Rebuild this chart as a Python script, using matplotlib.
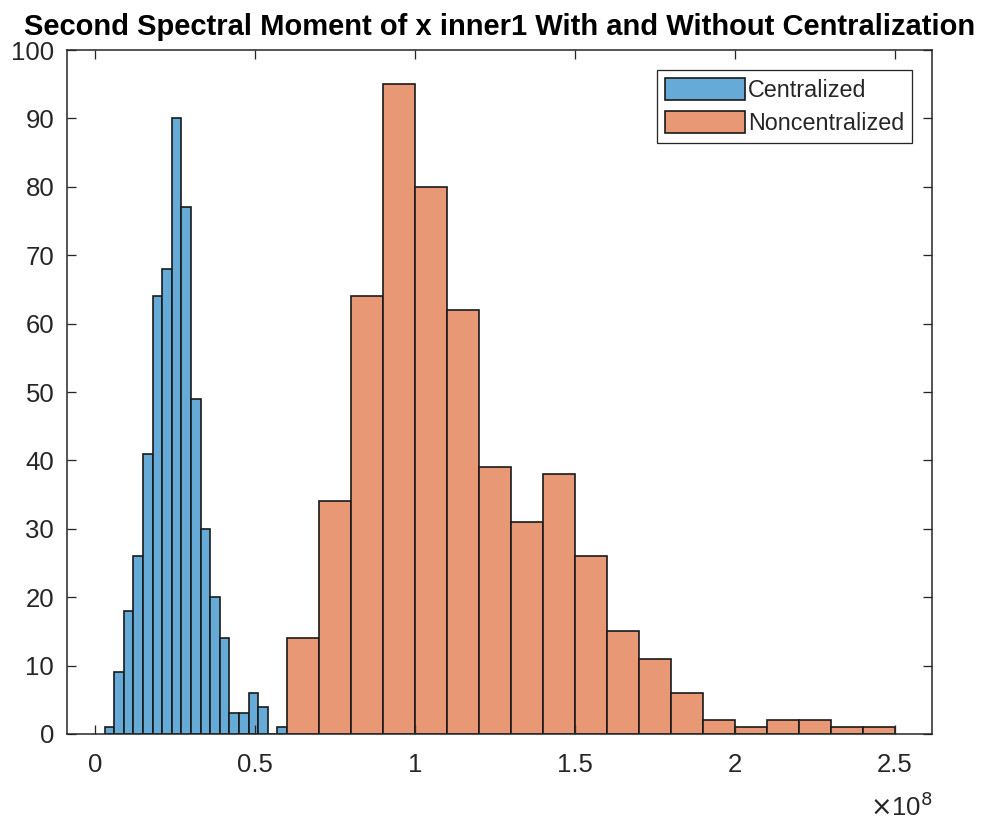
import numpy as np
import matplotlib
matplotlib.use("Agg")
import matplotlib.pyplot as plt
from matplotlib.ticker import FuncFormatter

plt.rcParams['font.family'] = ['Liberation Sans', 'DejaVu Sans']

# bin edges and counts for the two histograms (second spectral moment values)
cent_edges = np.arange(1, 21) * 3e6
cent_counts = [1, 9, 18, 26, 41, 64, 68, 90, 77, 49, 30, 20, 14, 3, 3, 6, 4, 0, 1]

noncent_edges = np.arange(6, 26) * 1e7
noncent_counts = [14, 34, 64, 95, 80, 62, 39, 31, 38, 26, 15, 11, 6, 2, 1, 2, 2, 1, 1]

series_labels = ["Centralized", "Noncentralized"]
xticks = [0, 0.5e8, 1e8, 1.5e8, 2e8, 2.5e8]
yticks = list(range(0, 101, 10))

axis_grey = "#262626"
blue = "#66AAD7"
orange = "#E89875"

fig = plt.figure(figsize=(9.81, 8.21), dpi=100)
ax = fig.add_axes([0.068, 0.106, 0.8823, 0.833])

for edges, counts, color, label in [
    (cent_edges, cent_counts, blue, series_labels[0]),
    (noncent_edges, noncent_counts, orange, series_labels[1]),
]:
    ax.bar(edges[:-1], counts, width=np.diff(edges), align='edge',
           color=color, edgecolor='#1a1a1a', linewidth=1.2, label=label)

ax.set_xlim(-0.0885e8, 2.6165e8)
ax.set_ylim(0, 100)
ax.set_xticks(xticks)
ax.set_yticks(yticks)
ax.xaxis.set_major_formatter(FuncFormatter(lambda v, p: f"{v / 1e8:g}"))

ax.tick_params(direction='in', length=6.2, width=0.93, colors=axis_grey,
               labelsize=18.5, top=True, right=True)
ax.tick_params(axis='x', pad=14)
ax.tick_params(axis='y', pad=9)
for s in ax.spines.values():
    s.set_color(axis_grey)
    s.set_linewidth(1.1)

ax.text(1.0, -0.085, r"$\times$10$^{8}$", transform=ax.transAxes, ha='right',
        va='top', fontsize=18.5, color=axis_grey)

ax.set_title("Second Spectral Moment of x inner1 With and Without Centralization",
             fontsize=21, fontweight='bold', pad=10.5)

leg = ax.legend(loc='upper right', fontsize=16.8, fancybox=False, framealpha=1,
                edgecolor=axis_grey, handlelength=3.45, handleheight=1.05,
                handletextpad=0.1, labelspacing=0.4, borderpad=0.35,
                borderaxespad=0.86)
leg.get_frame().set_linewidth(0.93)
for t in leg.get_texts():
    t.set_color(axis_grey)

fig.savefig("out.png", dpi=100)
